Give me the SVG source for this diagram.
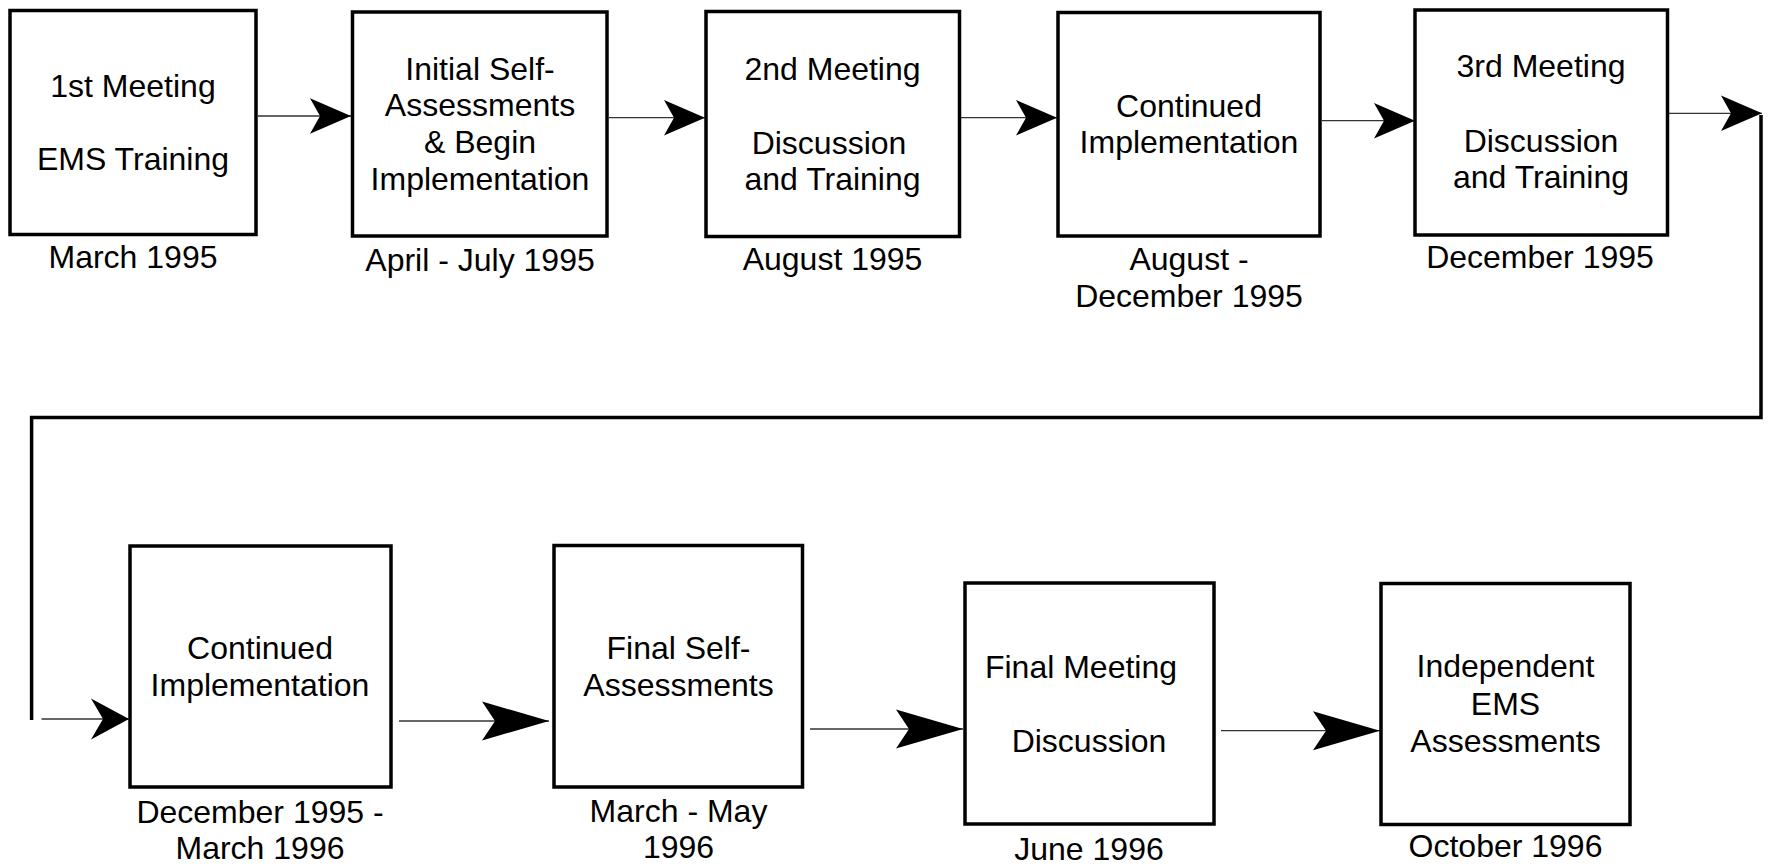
<svg xmlns="http://www.w3.org/2000/svg" width="1772" height="866" viewBox="0 0 1772 866">
<style>
.box{fill:#fff;stroke:#000;stroke-width:3.5}
.t{font-family:"Liberation Sans",Arial,sans-serif;font-size:32px;fill:#000;text-anchor:middle}
.ln{stroke:#333;stroke-width:1.3;fill:none}
.thick{stroke:#000;stroke-width:3.5;fill:none;stroke-linejoin:miter}
</style>
<defs>
<marker id="ah" viewBox="-45 -20 50 40" refX="0" refY="0" markerWidth="50" markerHeight="40" markerUnits="userSpaceOnUse" orient="auto">
<path d="M0,0 L-41,-17.7 L-31,0 L-41,17.7 Z" fill="#000"/>
</marker>
<marker id="ahL" viewBox="-70 -22 75 44" refX="0" refY="0" markerWidth="75" markerHeight="44" markerUnits="userSpaceOnUse" orient="auto">
<path d="M0,0 L-67,-19.5 L-54,0 L-67,19.5 Z" fill="#000"/>
</marker>
<marker id="ahS" viewBox="-42 -22 47 44" refX="0" refY="0" markerWidth="47" markerHeight="44" markerUnits="userSpaceOnUse" orient="auto">
<path d="M0,0 L-38,-20.5 L-26,0 L-38,20.5 Z" fill="#000"/>
</marker>
</defs>

<g id="connectors">
<line class="ln" x1="258" y1="116" x2="351" y2="116" marker-end="url(#ah)"/>
<line class="ln" x1="609" y1="117.7" x2="705" y2="117.7" marker-end="url(#ah)"/>
<line class="ln" x1="961" y1="117.7" x2="1057" y2="117.7" marker-end="url(#ah)"/>
<line class="ln" x1="1322" y1="120.7" x2="1415" y2="120.7" marker-end="url(#ah)"/>
<line class="ln" x1="1668" y1="113.3" x2="1762" y2="113.3" marker-end="url(#ah)"/>
<polyline class="thick" points="1761,115 1761,417.5 31.6,417.5 31.6,720"/>
<line class="ln" x1="41.5" y1="719" x2="129" y2="719" marker-end="url(#ahS)"/>
<line class="ln" x1="399" y1="721" x2="549" y2="721" marker-end="url(#ahL)"/>
<line class="ln" x1="810" y1="729" x2="963" y2="729" marker-end="url(#ahL)"/>
<line class="ln" x1="1221" y1="730.7" x2="1380" y2="730.7" marker-end="url(#ahL)"/>
</g>

<g id="n1">
<rect class="box" x="10" y="10.5" width="246" height="224"/>
<text class="t" x="133" y="96.7">1st Meeting</text>
<text class="t" x="133" y="170">EMS Training</text>
<text class="t" x="133" y="268">March 1995</text>
</g>
<g id="n2">
<rect class="box" x="352.5" y="12" width="254.5" height="224"/>
<text class="t" x="480" y="80">Initial Self-</text>
<text class="t" x="480" y="116">Assessments</text>
<text class="t" x="480" y="153">&amp; Begin</text>
<text class="t" x="480" y="190">Implementation</text>
<text class="t" x="480" y="270.5">April - July 1995</text>
</g>
<g id="n3">
<rect class="box" x="706" y="11.5" width="253.5" height="225"/>
<text class="t" x="832.5" y="80">2nd Meeting</text>
<text class="t" x="829" y="154">Discussion</text>
<text class="t" x="832.5" y="190">and Training</text>
<text class="t" x="832.5" y="270">August 1995</text>
</g>
<g id="n4">
<rect class="box" x="1058" y="12.5" width="262" height="223.5"/>
<text class="t" x="1189" y="116.7">Continued</text>
<text class="t" x="1189" y="153.3">Implementation</text>
<text class="t" x="1189" y="270">August -</text>
<text class="t" x="1189" y="306.7">December 1995</text>
</g>
<g id="n5">
<rect class="box" x="1415" y="10" width="252.5" height="225"/>
<text class="t" x="1541" y="76.7">3rd Meeting</text>
<text class="t" x="1541" y="151.7">Discussion</text>
<text class="t" x="1541" y="188.3">and Training</text>
<text class="t" x="1540" y="268.3">December 1995</text>
</g>
<g id="n6">
<rect class="box" x="130" y="546" width="261" height="241"/>
<text class="t" x="260" y="659.3">Continued</text>
<text class="t" x="260" y="696">Implementation</text>
<text class="t" x="260" y="822.7">December 1995 -</text>
<text class="t" x="260" y="859.3">March 1996</text>
</g>
<g id="n7">
<rect class="box" x="554" y="545.5" width="248.5" height="241.5"/>
<text class="t" x="678.5" y="659.3">Final Self-</text>
<text class="t" x="678.5" y="696">Assessments</text>
<text class="t" x="678.5" y="821.7">March - May</text>
<text class="t" x="678.5" y="858.3">1996</text>
</g>
<g id="n8">
<rect class="box" x="965" y="583" width="249" height="241"/>
<text class="t" x="1081" y="677.7">Final Meeting</text>
<text class="t" x="1089" y="752.3">Discussion</text>
<text class="t" x="1089" y="860">June 1996</text>
</g>
<g id="n9">
<rect class="box" x="1381" y="583.5" width="249" height="241"/>
<text class="t" x="1505.5" y="677.3">Independent</text>
<text class="t" x="1505.5" y="715">EMS</text>
<text class="t" x="1505.5" y="751.7">Assessments</text>
<text class="t" x="1505.5" y="856.7">October 1996</text>
</g>
</svg>
